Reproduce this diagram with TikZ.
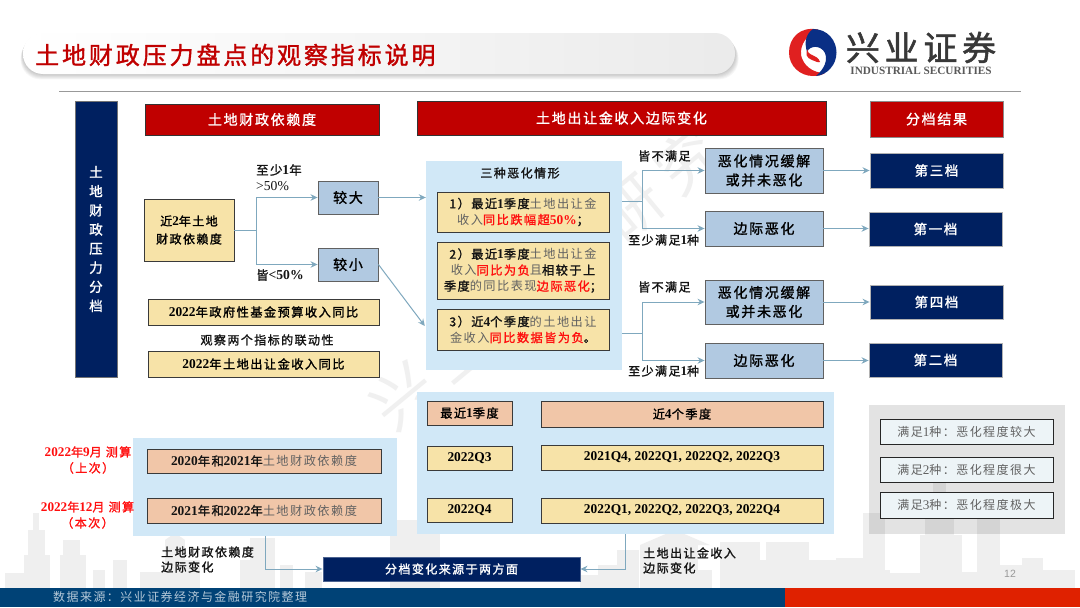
\documentclass[tikz,border=0pt]{standalone}
\usepackage{fontspec}
\usetikzlibrary{arrows.meta,calc}
\setmainfont[LetterSpace=12,BoldFont={Noto Sans CJK SC},BoldFeatures={FakeBold=1.4}]{Noto Sans CJK SC}
\newfontfamily\latf[Scale=1.1]{Liberation Serif}
\newfontfamily\sansf{Liberation Sans}
\newcommand\ltn[1]{{\latf\bfseries #1}}
\newcommand\ltr[1]{{\latf #1}}
\newcommand\fsz[2]{\fontsize{#1}{#2}\selectfont}
\newcommand\tB[1]{{\bfseries\color{black!92}#1}}
\newcommand\tG[1]{{\color{black!62}#1}}
\newcommand\tR[1]{{\bfseries\color{redtx}#1}}
\definecolor{navy}{HTML}{002060}
\definecolor{hdr}{HTML}{C00000}
\definecolor{tan}{HTML}{F7E3A8}
\definecolor{peach}{HTML}{F1C6A8}
\definecolor{steel}{HTML}{B1C9E1}
\definecolor{pale}{HTML}{D1E8F7}
\definecolor{redtx}{HTML}{FF0E0E}
\definecolor{conn}{HTML}{7FA8BE}
\definecolor{edge}{HTML}{3A3A3A}
\definecolor{sky}{HTML}{EFEFEF}
\definecolor{notefill}{HTML}{EDF4F7}
\definecolor{barblue}{HTML}{004276}
\definecolor{barred}{HTML}{DF2100}
\definecolor{foottx}{HTML}{B4C8D8}
\definecolor{logored}{HTML}{E02020}
\definecolor{logoblue}{HTML}{0A2F85}
\tikzset{
  base/.style={rectangle,inner sep=0pt,align=center,line width=0.9pt},
  hdrbox/.style={base,fill=hdr,draw=black!80,text=white,font=\fsz{14}{17}\bfseries},
  navybox/.style={base,fill=navy,draw=navy,text=white,font=\fsz{13.5}{17}\bfseries},
  tanbox/.style={base,fill=tan,draw=edge,font=\fsz{12.2}{16}},
  peachbox/.style={base,fill=peach,draw=edge,font=\fsz{12.2}{16}},
  steelbox/.style={base,fill=steel,draw=edge!80,font=\fsz{14}{19}\bfseries},
  notebox/.style={base,fill=notefill,draw=black!85,text=black!62,font=\fsz{12}{15}},
  lab/.style={inner sep=0pt,align=left,anchor=west,text=black!92,font=\fsz{12}{16}\bfseries},
  redlab/.style={inner sep=0pt,align=center,text=redtx,font=\fsz{12}{16}\bfseries},
  arr/.style={draw=conn,line width=1pt,-{Stealth[length=7pt,width=6.5pt]}},
  plain/.style={draw=conn,line width=1pt},
  sk/.style={fill=sky,draw=none},
}
% name, x1, y1, x2, y2, style, text
\newcommand\bx[7]{\node[#6,minimum width={(#4-#2)*1pt},minimum height={(#5-#3)*1pt}] (#1) at ({(#2+#4)/2},{(#3+#5)/2}) {#7};}
\newcommand\skb[3]{\fill[sk] (#1,588) rectangle (#2,#3);}
\begin{document}
\begin{tikzpicture}[x=1pt,y=-1pt]
\useasboundingbox (0,0) rectangle (1080,608);
\fill[white] (0,0) rectangle (1080,608);
% skyline
\skb{5}{24}{573}\skb{24}{50}{555}\skb{28}{45}{530}\skb{33}{39}{513}
\skb{60}{86}{555}\skb{63}{80}{540}\skb{93}{105}{570}\skb{113}{127}{560}
\skb{140}{165}{572}\skb{165}{185}{540}\skb{185}{200}{560}
\fill[sky] (165,540) -- (175,533) -- (185,540) -- cycle;
\skb{240}{275}{560}\skb{250}{275}{538}\skb{280}{293}{565}\skb{305}{322}{572}
\skb{390}{440}{520}
\skb{580}{600}{575}\skb{598}{630}{565}\skb{617}{639}{550}\skb{640}{698}{545}
\fill[sky] (640,545) -- (675,530) -- (710,545) -- cycle;
\skb{698}{712}{570}\skb{720}{760}{542}\skb{760}{766}{560}\skb{766}{809}{542}
\skb{809}{836}{560}\skb{836}{863}{558}\skb{863}{885}{513}\skb{885}{890}{570}
\skb{890}{920}{573}\skb{920}{962}{535}\skb{925}{954}{516}\skb{933}{946}{483}
\skb{962}{977}{572}\skb{977}{1000}{518}\skb{1000}{1022}{565}\skb{1022}{1043}{558}\skb{1043}{1075}{570}
% watermark
\node[rotate=39.5,text=black!6,inner sep=0pt] (wm) at (545,278) {\fsz{62}{62}\addfontfeatures{LetterSpace=19}兴业证券研究};
% title bar
\foreach \i in {1,...,6}{\fill[black,opacity=0.035,rounded corners=20pt] ({23-\i*0.4},{33+\i*0.9}) rectangle ({735+\i*0.6},{74+\i*0.9});}
\node[rounded corners=20pt,left color=white,right color=black!8,minimum width=712pt,minimum height=41pt,inner sep=0pt] (titlebar) at (379,53.5) {};
\node[inner sep=0pt,anchor=west,text=hdr] (title) at (35,55) {\fsz{24}{26}\bfseries 土地财政压力盘点的观察指标说明};
% logo
\fill[logored] (818,29.5) .. controls (800,26) and (789,38) .. (789,52.5) .. controls (789,66) and (800,76) .. (813,76) .. controls (818,76) and (822,75) .. (825,73) .. controls (812,73) and (803,65) .. (801,55) .. controls (800,44) and (807,35) .. (818,29.5) -- cycle;
\fill[logoblue] (813,29) .. controls (828,29) and (836.5,41) .. (836.5,52.5) .. controls (836.5,65) and (827,75) .. (816,76) .. controls (824,69) and (828,61) .. (825,53) .. controls (821,45) and (810,45) .. (807,52) .. controls (804,42) and (806,34) .. (813,29) -- cycle;
\fill[logored] (812,60) .. controls (806,58) and (805,53) .. (808,49) .. controls (806,56) and (818,54) .. (820,62) .. controls (818,63) and (815,61) .. (812,60) -- cycle;
\node[inner sep=0pt,anchor=center,text=black!78] (logocn) at (921,47.5) {\fsz{34}{36}\bfseries\addfontfeatures{LetterSpace=14}兴业证券};
\node[inner sep=0pt,anchor=center,text=black!65] (logoen) at (921,71) {\latf\fsz{10.2}{12}\bfseries INDUSTRIAL SECURITIES};
\draw[black!40,line width=1pt] (59,91) -- (1021,91);
% bottom bars
\fill[barblue] (0,588) rectangle (785,607);
\fill[barred] (785,588) rectangle (1080,607);
\node[inner sep=0pt,anchor=west,text=foottx] (foot) at (53,597) {\fsz{12}{14}数据来源：兴业证券经济与金融研究院整理};
\node[inner sep=0pt,text=black!40] (pageno) at (1010,574) {\sansf\fsz{10.5}{12}12};
% panels
\bx{pnl}{426}{161}{622}{370}{fill=pale,draw=none}{}
\bx{pl}{133}{438}{397}{536}{fill=pale,draw=none}{}
\bx{pr}{417}{392}{834}{534}{fill=pale,draw=none}{}
\node[fill=black,opacity=0.11,minimum width=196pt,minimum height=129pt,inner sep=0pt] (pg) at (967,469.5) {};
% headers
\bx{navyv}{75}{101}{117}{377}{base,fill=navy,draw=black!55,text=white,font=\fsz{13.5}{19.1}\bfseries}{土\\地\\财\\政\\压\\力\\分\\档}
\bx{h1}{145}{104}{379}{135}{hdrbox}{土地财政依赖度}
\bx{h2}{417}{101}{826}{135}{hdrbox}{土地出让金收入边际变化}
\bx{h3}{870}{101}{1003}{137}{hdrbox,draw=black!45}{分档结果}
% left
\bx{dep}{144}{199}{234}{261}{tanbox,font=\fsz{12}{18}\bfseries}{近\ltn{2}年土地\\财政依赖度}
\bx{da}{318}{181}{378}{214}{steelbox}{较大}
\bx{xiao}{318}{248}{378}{281}{steelbox}{较小}
\bx{gov}{148}{299}{379}{325}{tanbox,font=\fsz{12.2}{16}\bfseries}{\ltn{2022}年政府性基金预算收入同比}
\node[lab,anchor=center] (obs) at (267,340) {观察两个指标的联动性};
\bx{land}{148}{351}{379}{377}{tanbox,font=\fsz{12.2}{16}\bfseries}{\ltn{2022}年土地出让金收入同比}
\node[lab,font=\fsz{12.4}{16}\bfseries] (l1) at (256,170) {至少\ltr{1}年};
\node[lab,font=\latf\fsz{12.4}{16}] (l2) at (256,186) {>50\%};
\node[lab,font=\fsz{12.4}{16}\bfseries] (l3) at (256,275) {皆\ltr{<50\%}};
% three cases
\node[lab,anchor=center] (ttl) at (520,173) {三种恶化情形};
\bx{q1}{437}{192}{609}{232}{tanbox}{\tB{1）最近\ltn{1}季度}\tG{土地出让金}\\\tG{收入}\tR{同比跌幅超\ltn{50\%}}\tB{；}}
\bx{q2}{437}{242}{609}{299}{tanbox}{\tB{2）最近\ltn{1}季度}\tG{土地出让金}\\\tG{收入}\tR{同比为负}\tG{且}\tB{相较于上}\\\tB{季度}\tG{的同比表现}\tR{边际恶化}\tB{；}}
\bx{q3}{437}{309}{609}{350}{tanbox}{\tB{3）近\ltn{4}个季度}\tG{的土地出让}\\\tG{金收入}\tR{同比数据皆为负}\tB{。}}
% right column
\bx{a1}{705}{148}{823}{193}{steelbox}{恶化情况缓解\\或并未恶化}
\bx{b1}{705}{211}{823}{246}{steelbox}{边际恶化}
\bx{a2}{705}{280}{823}{324}{steelbox}{恶化情况缓解\\或并未恶化}
\bx{b2}{705}{343}{823}{378}{steelbox}{边际恶化}
\bx{r3}{870}{153}{1003}{188}{navybox,draw=black!30}{第三档}
\bx{r1}{869}{212}{1002}{246}{navybox,draw=black!30}{第一档}
\bx{r4}{870}{285}{1003}{319}{navybox,draw=black!30}{第四档}
\bx{r2}{869}{343}{1002}{377}{navybox,draw=black!30}{第二档}
\node[lab] (n1) at (638,156) {皆不满足};
\node[lab] (n2) at (628,240) {至少满足\ltr{1}种};
\node[lab] (n3) at (638,287) {皆不满足};
\node[lab] (n4) at (628,371) {至少满足\ltr{1}种};
% lower left
\node[redlab] (m1) at (88,460) {\ltn{2022}年\ltn{9}月 测算\\（上次）};
\node[redlab] (m2) at (87.5,515) {\ltn{2022}年\ltn{12}月 测算\\（本次）};
\bx{y1}{147}{449}{381}{473}{peachbox}{\tB{\ltn{2020}年和\ltn{2021}年}\tG{土地财政依赖度}}
\bx{y2}{147}{498}{381}{523}{peachbox}{\tB{\ltn{2021}年和\ltn{2022}年}\tG{土地财政依赖度}}
% lower right
\bx{c1}{427}{401}{512}{425}{peachbox,font=\fsz{12.2}{16}\bfseries}{最近\ltn{1}季度}
\bx{c2}{541}{401}{823}{427}{peachbox,font=\fsz{12.2}{16}\bfseries}{近\ltn{4}个季度}
\bx{c3}{427}{446}{512}{470}{tanbox}{\ltn{2022Q3}}
\bx{c4}{541}{445}{823}{470}{tanbox}{\ltn{2021Q4, 2022Q1, 2022Q2, 2022Q3}}
\bx{c5}{427}{498}{512}{522}{tanbox}{\ltn{2022Q4}}
\bx{c6}{541}{498}{823}{523}{tanbox}{\ltn{2022Q1, 2022Q2, 2022Q3, 2022Q4}}
% notes
\bx{s1}{880}{419}{1053}{444}{notebox}{满足\ltr{1}种：恶化程度较大}
\bx{s2}{880}{457}{1053}{482}{notebox}{满足\ltr{2}种：恶化程度很大}
\bx{s3}{880}{492}{1053}{518}{notebox}{满足\ltr{3}种：恶化程度极大}
% summary
\bx{sum}{323}{557}{580}{581}{navybox,draw=navy!70!white,font=\fsz{12}{15}\bfseries}{分档变化来源于两方面}
\node[lab,font=\fsz{12}{15}\bfseries] (t1) at (161,552) {土地财政依赖度};
\node[lab,font=\fsz{12}{15}\bfseries] (t2) at (161,567) {边际变化};
\node[lab,font=\fsz{12}{15}\bfseries] (t3) at (643,553) {土地出让金收入};
\node[lab,font=\fsz{12}{15}\bfseries] (t4) at (643,568) {边际变化};
% connectors
\coordinate (jd) at (256,230);
\coordinate (j1) at (642,201);
\coordinate (j2) at (642,333);
\coordinate (fl) at (265,536);
\coordinate (fr) at (625,534);
\draw[plain] (dep.east |- jd) -- (jd);
\draw[arr] (jd) |- (da.west);
\draw[arr] (jd) |- (xiao.west);
\draw[arr] (da.east) -- (da.east -| pnl.west);
\coordinate (qt) at ($(q3.west -| pnl.west)+(-1,-3.5)$);
\draw[arr] (xiao.east) -- (qt);
\draw[plain] (pnl.east |- j1) -- (j1);
\draw[arr] (j1) |- (a1.west);
\draw[arr] (j1) |- (b1.west);
\draw[plain] (pnl.east |- j2) -- (j2);
\draw[arr] (j2) |- (a2.west);
\draw[arr] (j2) |- (b2.west);
\draw[arr] (a1.east) -- (r3.west |- a1.east);
\draw[arr] (b1.east) -- (r1.west |- b1.east);
\draw[arr] (a2.east) -- (r4.west |- a2.east);
\draw[arr] (b2.east) -- (r2.west |- b2.east);
\draw[arr] (fl) |- (sum.west);
\draw[arr] (fr) |- (sum.east);
\end{tikzpicture}
\end{document}
